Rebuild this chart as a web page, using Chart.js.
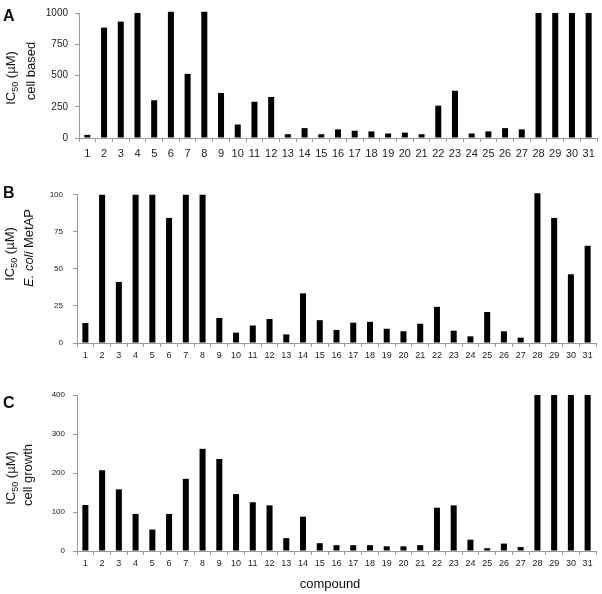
<!DOCTYPE html>
<html><head><meta charset="utf-8">
<script src="https://cdn.jsdelivr.net/npm/chart.js@4.4.1/dist/chart.umd.min.js"></script>
<style>
html,body{margin:0;padding:0;background:#fff;width:602px;height:594px;overflow:hidden}
.p{position:absolute;left:0;width:602px}
canvas{display:block}
</style></head><body>
<div class="p" style="top:0;height:170px"><canvas id="cA" width="602" height="170"></canvas></div>
<div class="p" style="top:180px;height:190px"><canvas id="cB" width="602" height="190"></canvas></div>
<div class="p" style="top:380px;height:214px"><canvas id="cC" width="602" height="214"></canvas></div>
<script>
// ---- data ----
const compounds = ['1','2','3','4','5','6','7','8','9','10','11','12','13','14','15','16','17','18','19','20','21','22','23','24','25','26','27','28','29','30','31'];
const cellBased = [25,883,931,1000,302,1010,513,1010,360,108,290,328,30,79,30,69,58,53,36,43,30,259,378,36,53,79,69,1000,1000,1000,1000];
const eColiMetAP = [13.5,100,41.2,100,100,84.4,100,100,16.9,7,11.8,16.2,5.8,33.5,15.4,8.8,13.7,14.3,9.6,7.9,13,24.4,8.3,4.5,20.9,7.9,3.6,101,84.4,46.4,65.6];
const cellGrowth = [118,207,158,95,55,95,185,262,236,146,125,117,33,88,20,15,15,15,12,12,15,111,117,29,7,19,10,400,400,400,400];
const ticksA = [0,250,500,750,1000];
const ticksB = [0,25,50,75,100];
const ticksC = [0,100,200,300,400];

const FONT = '"Liberation Sans", Arial, sans-serif';
const AXIS = '#9a9a9a';

function drawRotated(ctx, baseX, cy, parts) {
  ctx.save();
  let total = 0;
  parts.forEach(p => { ctx.font = p.font; p.w = ctx.measureText(p.text).width; total += p.w; });
  ctx.translate(baseX, cy);
  ctx.rotate(-Math.PI / 2);
  ctx.fillStyle = '#111';
  ctx.textBaseline = 'alphabetic';
  ctx.textAlign = 'left';
  let x = -total / 2;
  parts.forEach(p => { ctx.font = p.font; ctx.fillText(p.text, x, p.dy || 0); x += p.w; });
  ctx.restore();
}

const textPlugin = {
  id: 'panelText',
  afterDraw(chart, args, opts) {
    const ctx = chart.ctx;
    ctx.save();
    ctx.fillStyle = '#111';
    ctx.font = 'bold 16px ' + FONT;
    ctx.textBaseline = 'alphabetic';
    ctx.textAlign = 'left';
    ctx.fillText(opts.letter, 3, opts.letterY);
    ctx.restore();
    drawRotated(ctx, opts.l1x, opts.l1y, [
      {text: 'IC', font: '13px ' + FONT},
      {text: '50', font: '9px ' + FONT, dy: 3},
      {text: ' (\u00B5M)', font: '13px ' + FONT}
    ]);
    drawRotated(ctx, opts.l2x, opts.l2y, opts.line2.map(p => ({text: p.t, font: (p.i ? 'italic ' : '') + '13px ' + FONT})));
    if (opts.xTitle) {
      ctx.save();
      ctx.fillStyle = '#111';
      ctx.font = '13px ' + FONT;
      ctx.textAlign = 'center';
      ctx.textBaseline = 'middle';
      ctx.fillText(opts.xTitle, 330, opts.xTitleY);
      ctx.restore();
    }
  }
};

function makeChart(id, data, ticks, cfg) {
  return new Chart(document.getElementById(id), {
    type: 'bar',
    data: { labels: compounds, datasets: [{ data: data, backgroundColor: '#000', borderWidth: 0,
      barPercentage: 0.36, categoryPercentage: 1.0, clip: false }] },
    plugins: [textPlugin],
    options: {
      responsive: false, animation: false, devicePixelRatio: 1,
      layout: { padding: { top: cfg.top, right: cfg.right, left: 0, bottom: 0 } },
      plugins: { legend: { display: false }, tooltip: { enabled: false }, panelText: cfg.text },
      scales: {
        x: {
          offset: true,
          grid: { offset: true, drawOnChartArea: false, drawTicks: true, tickLength: 4, color: AXIS },
          border: { display: true, color: AXIS },
          ticks: { color: '#222', font: { family: FONT, size: cfg.xFont }, padding: cfg.xPad, maxRotation: 0, autoSkip: false },
          afterFit: s => { s.height = cfg.xH; }
        },
        y: {
          min: 0, max: ticks[ticks.length - 1],
          afterBuildTicks: s => { s.ticks = ticks.map(v => ({ value: v })); },
          grid: { drawOnChartArea: false, drawTicks: true, tickLength: 4, color: AXIS },
          border: { display: true, color: AXIS },
          ticks: { color: '#222', font: { family: FONT, size: cfg.yFont }, padding: cfg.yPad,
                   callback: v => String(v) },
          afterFit: s => { s.width = cfg.yW; }
        }
      }
    }
  });
}

makeChart('cA', cellBased, ticksA, {
  top: 7, right: 5, xH: 32, yW: 79, xFont: 11, yFont: 10, xPad: 5, yPad: 7,
  text: { letter: 'A', letterY: 21, l1x: 15, l1y: 78, l2x: 35, l2y: 71, line2: [{t: 'cell based'}] }
});
makeChart('cB', eColiMetAP, ticksB, {
  top: 7, right: 6, xH: 27, yW: 77, xFont: 9, yFont: 8, xPad: 3, yPad: 10,
  text: { letter: 'B', letterY: 18, l1x: 14, l1y: 74, l2x: 33, l2y: 68, line2: [{t: 'E. coli', i: true}, {t: ' MetAP'}] }
});
makeChart('cC', cellGrowth, ticksC, {
  top: 15, right: 6, xH: 43, yW: 77, xFont: 9, yFont: 8, xPad: 3, yPad: 8,
  text: { letter: 'C', letterY: 28, l1x: 15, l1y: 98, l2x: 32, l2y: 95, line2: [{t: 'cell growth'}], xTitle: 'compound', xTitleY: 204 }
});
</script>
</body></html>
